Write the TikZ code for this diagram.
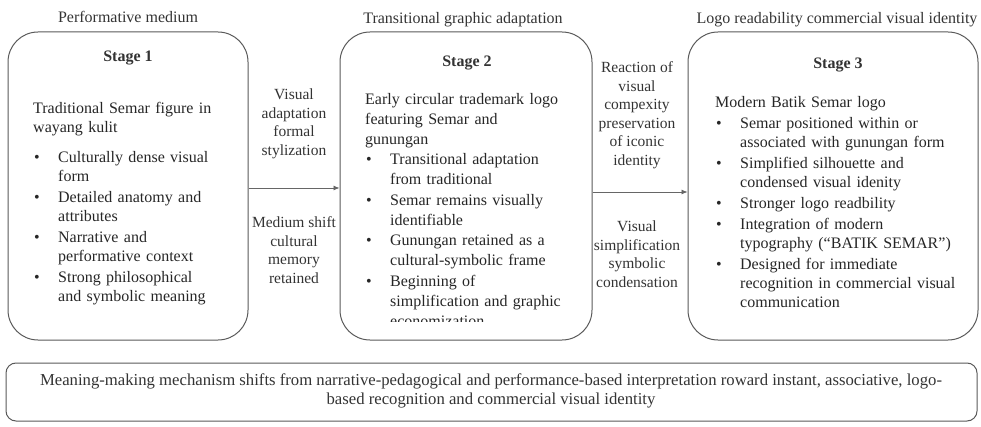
\documentclass[tikz,border=0pt]{standalone}
\usepackage{fontspec}
\setmainfont{Liberation Serif}
\usetikzlibrary{arrows.meta}

% bullet paragraph: whole paragraph indented, bullet hung in the margin
\newcommand{\bitem}{\par\leftskip=25pt\noindent\llap{\makebox[25pt][l]{\hspace{1pt}\textbullet}}}

\begin{document}
\begin{tikzpicture}[x=1pt,y=1pt,
  stagebox/.style={draw=black!65, line width=1pt, rounded corners=30pt, minimum height=308pt},
  body/.style={anchor=north west, inner sep=0pt, align=left, text=black!85,
    font=\fontsize{16}{19}\selectfont},
  heading/.style={inner sep=0pt, text=black!80, font=\fontsize{16}{19}\selectfont},
  steplabel/.style={inner sep=0pt, align=center, text=black!80, font=\fontsize{15.5}{18.5}\selectfont},
  flow/.style={draw=black!60, line width=0.8pt, -{Latex[length=6pt,width=5pt]}}]
  \useasboundingbox (0,0) rectangle (981,426);

  % Stage boxes
  \node[stagebox, minimum width=240pt] (s1) at (128,240) {};
  \node[stagebox, minimum width=252pt] (s2) at (466,240) {};
  \node[stagebox, minimum width=290pt] (s3) at (833,240) {};

  % Titles above the boxes
  \node[heading] (t1) at (128,409) {Performative medium};
  \node[heading] (t2) at (463,406) {Transitional graphic adaptation};
  \node[heading] (t3) at (837,406) {Logo readability commercial visual identity};

  \node[heading] (h1) at (128,368) {\bfseries Stage 1};
  \node[heading] (h2) at (467,363) {\bfseries Stage 2};
  \node[heading] (h3) at (838,361) {\bfseries Stage 3};

  % Box contents
  \node[body, text width=210pt] (c1) at (33,324) {\parskip=2pt
    Traditional Semar figure in\newline wayang kulit
    \par\vspace{9pt}
    \bitem Culturally dense visual\newline form
    \bitem Detailed anatomy and\newline attributes
    \bitem Narrative and\newline performative context
    \bitem Strong philosophical\newline and symbolic meaning\par};

  \begin{scope}
    \clip (s2.west |- 0,105) rectangle (s2.north east);
    \node[body, text width=222pt, font=\fontsize{16}{20}\selectfont] (c2) at (365,333) {\parskip=0.5pt
      Early circular trademark logo\newline featuring Semar and\newline gunungan
      \bitem Transitional adaptation\newline from traditional
      \bitem Semar remains visually\newline identifiable
      \bitem Gunungan retained as a\newline cultural-symbolic frame
      \bitem Beginning of\newline simplification and graphic\newline economization\par};
  \end{scope}

  \node[body, text width=262pt] (c3) at (715,330) {\parskip=2pt
    Modern Batik Semar logo
    \bitem Semar positioned within or\newline associated with gunungan form
    \bitem Simplified silhouette and\newline condensed visual idenity
    \bitem Stronger logo readbility
    \bitem Integration of modern\newline typography (“BATIK SEMAR”)
    \bitem Designed for immediate\newline recognition in commercial visual\newline communication\par};

  % Arrows between stages
  \draw[flow] ([yshift=-2pt]s1.east) -- ([yshift=-2pt]s2.west);
  \draw[flow] ([yshift=-6pt]s2.east) -- ([yshift=-6pt]s3.west);

  \node[steplabel] (a1) at (294,302) {Visual\\ adaptation\\ formal\\ stylization};
  \node[steplabel] (b1) at (294,176) {Medium shift\\ cultural\\ memory\\ retained};
  \node[steplabel] (a2) at (637,311) {Reaction of\\ visual\\ compexity\\ preservation\\ of iconic\\ identity};
  \node[steplabel] (b2) at (637,172) {Visual\\ simplification\\ symbolic\\ condensation};

  % Bottom summary
  \node[draw=black!65, line width=1pt, rounded corners=10pt, minimum width=971pt, minimum height=58pt] (sum) at (491.5,34) {};
  \node[steplabel, font=\fontsize{16.7}{19.5}\selectfont] (st) at (491,35) {Meaning-making mechanism shifts from narrative-pedagogical and performance-based interpretation roward instant, associative, logo-\\ based recognition and commercial visual identity};
\end{tikzpicture}
\end{document}
